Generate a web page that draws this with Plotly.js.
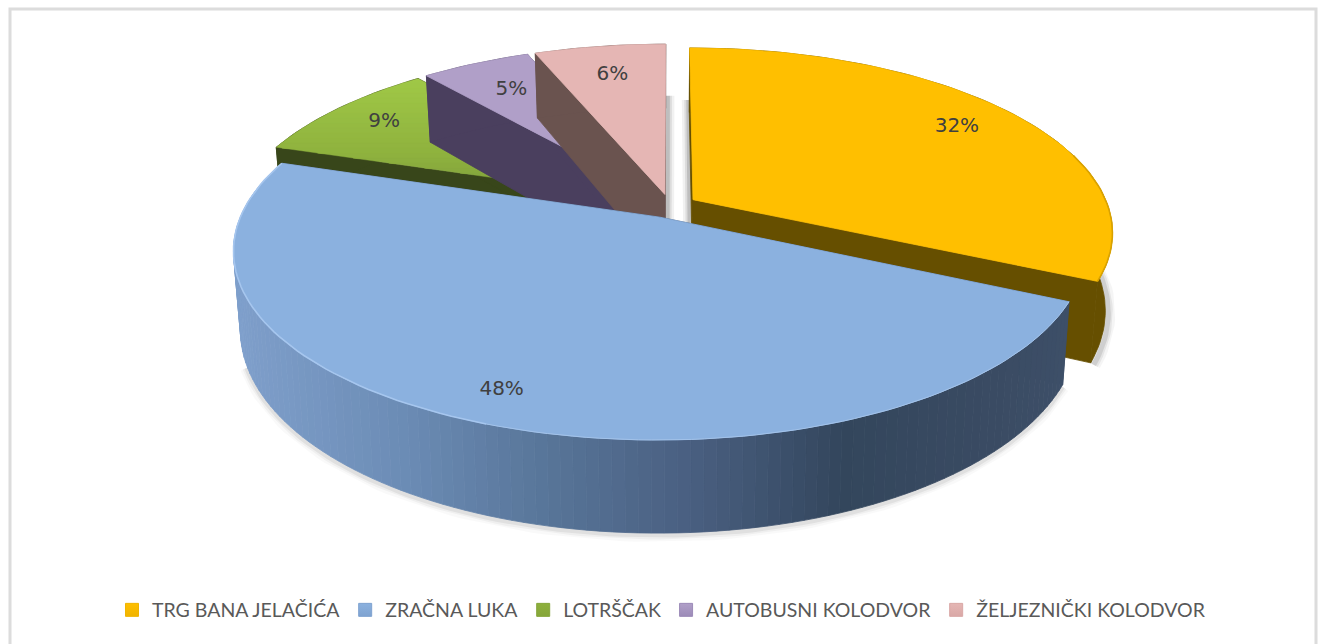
<!DOCTYPE html>
<html><head><meta charset="utf-8">
<script src="https://cdn.plot.ly/plotly-3.0.1.min.js"></script>
<style>html,body{margin:0;padding:0;background:#fff}#c{width:1323px;height:644px}</style>
</head><body><div id="c"></div>
<script>
const categories = ["TRG BANA JELAČIĆA","ZRAČNA LUKA","LOTRŠČAK","AUTOBUSNI KOLODVOR","ŽELJEZNIČKI KOLODVOR"];
const shares = [32,48,9,5,6];
const labels = ["32%","48%","9%","5%","6%"];
const topColors = ["#FFBF00","#8BB1DF","#8DB03C","#B09FC8","#E5B6B4"];
const sideColors = ["#664F00","#3C4D66","#38461A","#4A3F5E","#6A534F"];
const legendColors = ["#F0B400","#7FA3D0","#86A63A","#9C8BB8","#D9A8A6"];
const labelRadius = [0.82,0.87,0.84,0.78,0.78];
const blueWallStops = [[236,"#7F9FCB"],[400,"#6C8DB6"],[550,"#587599"],[700,"#495F80"],[850,"#33465C"],[1000,"#3A4B63"],[1070,"#3D4F68"]];
const greenStops = [[80,"#9FC746"],[150,"#8FB23E"],[215,"#76963A"]];

// projection parameters of the tilted, exploded pie
const CX=670, CY=206, RX=415, RY=180, K=0.173, DEPTH=76, SHRINK=0.984, EXPLODE=0.066;
const rad=d=>d*Math.PI/180;
function proj(u,v,low){
  const w=1-K*v;
  let x=CX+RX*u/w, y=CY+RY*v/w;
  if(low){x=CX+(x-CX)*SHRINK; y+=DEPTH/w;}
  return [x,y];
}
const hex=c=>[1,3,5].map(i=>parseInt(c.substr(i,2),16));
function ramp(stops,t){
  if(t<=stops[0][0])return stops[0][1];
  for(let i=1;i<stops.length;i++){
    if(t<=stops[i][0]){
      const f=(t-stops[i-1][0])/(stops[i][0]-stops[i-1][0]);
      const a=hex(stops[i-1][1]),b=hex(stops[i][1]);
      return "rgb("+a.map((v,k)=>Math.round(v+(b[k]-v)*f)).join(",")+")";
    }
  }
  return stops[stops.length-1][1];
}
const traces=[];
function poly(pts,color,lineColor,lw){
  const xs=pts.map(p=>p[0]),ys=pts.map(p=>p[1]);
  xs.push(xs[0]);ys.push(ys[0]);
  traces.push({type:"scatter",mode:"lines",x:xs,y:ys,fill:"toself",fillcolor:color,
    line:{color:lineColor||color,width:lw===undefined?0.8:lw},hoverinfo:"skip",showlegend:false});
}
function stroke(pts,color,w){
  traces.push({type:"scatter",mode:"lines",x:pts.map(p=>p[0]),y:pts.map(p=>p[1]),
    line:{color:color,width:w,shape:"linear"},hoverinfo:"skip",showlegend:false});
}
// slices
let acc=0;
const total=shares.reduce((a,b)=>a+b,0);
const slices=shares.map((s,i)=>{
  const a0=acc/total*360; acc+=s; const a1=acc/total*360; const m=(a0+a1)/2;
  return {i,a0,a1,m,ox:Math.sin(rad(m))*EXPLODE,oy:-Math.cos(rad(m))*EXPLODE};
});
const pt=(sl,r,a,low)=>proj(sl.ox+r*Math.sin(rad(a)),sl.oy-r*Math.cos(rad(a)),low);
function arc(sl,low,a0,a1){
  const n=Math.max(4,Math.ceil(Math.abs(a1-a0)/1.5)),o=[];
  for(let j=0;j<=n;j++)o.push(pt(sl,1,a0+(a1-a0)*j/n,low));
  return o;
}
function clipBand(pts,y0,y1){
  const clip=(P,inside,cross)=>{const o=[];P.forEach((p,i)=>{const q=P[(i+1)%P.length];
    const a=inside(p),b=inside(q); if(a)o.push(p); if(a!==b)o.push(cross(p,q));});return o;};
  const at=yy=>(p,q)=>[p[0]+(q[0]-p[0])*(yy-p[1])/(q[1]-p[1]),yy];
  return clip(clip(pts,p=>p[1]>=y0,at(y0)),p=>p[1]<=y1,at(y1));
}
function drawSlice(sl){
  const c=sideColors[sl.i];
  const apexT=pt(sl,0,0,false),apexB=pt(sl,0,0,true);
  const topArc=arc(sl,false,sl.a0,sl.a1);
  const botArc=arc(sl,true,sl.a0,sl.a1);
  // cut faces
  poly([apexT,topArc[0],botArc[0],apexB],c);
  poly([apexT,topArc[topArc.length-1],botArc[botArc.length-1],apexB],c);
  // outer wall
  if(sl.i===1){
    for(let j=0;j<topArc.length-1;j++){
      poly([topArc[j],topArc[j+1],botArc[j+1],botArc[j]],ramp(blueWallStops,topArc[j][0]));
    }
  } else {
    poly(topArc.concat(botArc.slice().reverse()),c);
  }
  // top face
  const top=[apexT].concat(topArc);
  if(sl.i===2){
    for(let y=78;y<218;y+=5){
      const b=clipBand(top,y,y+5.5);
      if(b.length>2)poly(b,ramp(greenStops,y),null,0.4);
    }
  } else {
    poly(top,topColors[sl.i]);
  }
}
const [yellow,blue,green,purple,pink]=slices;

// soft shadows under the pie
const shadowArc=arc(blue,true,115.2,250).map(p=>[p[0],p[1]+2]);
const yellowShadow=arc(yellow,true,85,115.2).map(p=>[p[0]+3,p[1]+2]);
[[14,0.025],[9,0.04],[5,0.06]].forEach(([w,o])=>{
  stroke(shadowArc,"rgba(0,0,0,"+o+")",w);
  stroke(yellowShadow,"rgba(0,0,0,"+(o*1.6)+")",w);
  const pe=[pt(pink,0.62,360,false),pt(pink,0,0,true)].map(p=>[p[0]+2,p[1]]);
  const ye=[pt(yellow,0.62,0,false),pt(yellow,0,0,true)].map(p=>[p[0]-2,p[1]]);
  stroke(pe,"rgba(0,0,0,"+(o*2.2)+")",w);
  stroke(ye,"rgba(0,0,0,"+(o*2.2)+")",w);
});

[green,purple,pink,yellow,blue].forEach(drawSlice);
// rim highlights and shading
stroke(arc(blue,false,200,288),"#A6C6EE",1.6);
stroke(arc(blue,false,115.2,200),"#A3C3EA",1);
stroke(arc(yellow,false,75,115.2),"#D9A200",1.6);

// percentage labels
traces.push({type:"scatter",mode:"text",
  x:slices.map(s=>pt(s,labelRadius[s.i],s.m,false)[0]),
  y:slices.map(s=>pt(s,labelRadius[s.i],s.m,false)[1]),
  text:labels,textposition:"middle center",
  textfont:{family:"'DejaVu Sans',sans-serif",size:20,color:"#404040"},
  hoverinfo:"skip",showlegend:false});

// legend entries
categories.forEach((name,i)=>traces.push({type:"scatter",mode:"markers",name:name,x:[null],y:[null],
  marker:{symbol:"square",size:13,color:topColors[i],
    gradient:{type:"vertical",color:legendColors[i]},line:{color:legendColors[i],width:1}},
  showlegend:true,hoverinfo:"skip"}));

const layout={
  width:1323,height:644,margin:{l:0,r:0,t:0,b:0},
  paper_bgcolor:"#fff",plot_bgcolor:"#fff",
  xaxis:{range:[0,1323],visible:false,fixedrange:true},
  yaxis:{range:[644,0],visible:false,fixedrange:true},
  showlegend:true,
  legend:{orientation:"h",x:0.5,xanchor:"center",y:0.0525,yanchor:"middle",
    font:{family:"Lato,sans-serif",size:19.5,color:"#595959"},bgcolor:"rgba(0,0,0,0)",traceorder:"normal",itemclick:false,itemdoubleclick:false},
  shapes:[{type:"rect",xref:"x",yref:"y",x0:10,x1:1316,y0:9,y1:700,line:{color:"#DCDCDC",width:3},layer:"below"}]
};
Plotly.newPlot("c",traces,layout,{displayModeBar:false,staticPlot:true});
</script></body></html>
